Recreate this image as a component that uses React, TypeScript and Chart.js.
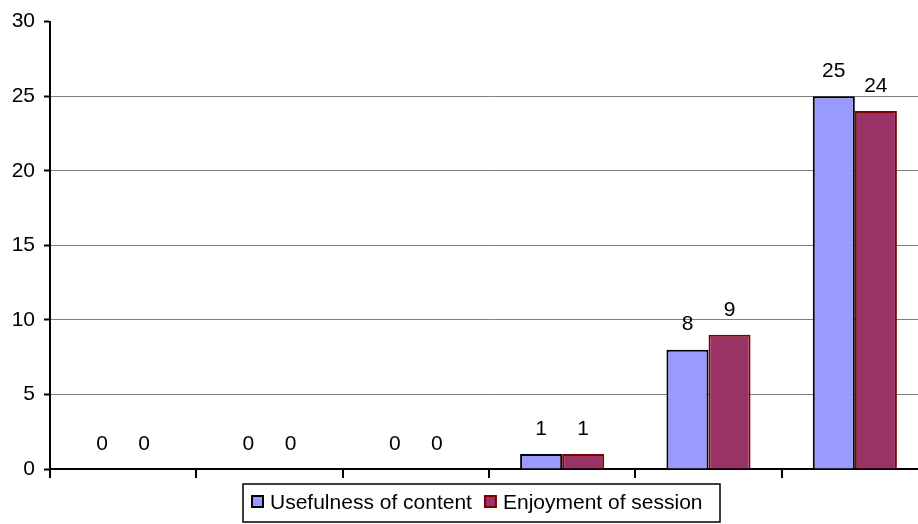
import React, { useEffect, useRef } from "react";
import { Chart, registerables } from "chart.js";

Chart.register(...registerables);

const categories = ["1", "2", "3", "4", "5", "6"];
const usefulness = [0, 0, 0, 1, 8, 25];
const enjoyment = [0, 0, 0, 1, 9, 24];
const seriesLabels = ["Usefulness of content", "Enjoyment of session"];
const yTicks = [0, 5, 10, 15, 20, 25, 30];

const FONT = "'Liberation Sans', Arial, sans-serif";
const FONT_SIZE = 21;

const valueLabels = {
  id: "valueLabels",
  afterDatasetsDraw(chart: any) {
    const ctx = chart.ctx;
    ctx.save();
    ctx.font = `${FONT_SIZE}px ${FONT}`;
    ctx.fillStyle = "#000";
    ctx.textAlign = "center";
    ctx.textBaseline = "middle";
    chart.data.datasets.forEach((ds: any, i: number) => {
      const meta = chart.getDatasetMeta(i);
      meta.data.forEach((bar: any, j: number) => {
        ctx.fillText(String(ds.data[j]), bar.x, bar.y - 25);
      });
    });
    ctx.restore();
  },
};

const boxLegend = {
  id: "boxLegend",
  afterDraw(chart: any) {
    const ctx = chart.ctx;
    const left = 243;
    const top = 484;
    const right = 720;
    const bottom = 522;
    ctx.save();
    ctx.fillStyle = "#fff";
    ctx.fillRect(left, top, right - left, bottom - top);
    ctx.lineWidth = 1.5;
    ctx.strokeStyle = "#000";
    ctx.strokeRect(left, top, right - left, bottom - top);
    ctx.font = `${FONT_SIZE}px ${FONT}`;
    ctx.textBaseline = "middle";
    ctx.textAlign = "left";
    const cy = 502;
    let x = 252;
    chart.data.datasets.forEach((ds: any) => {
      ctx.fillStyle = ds.backgroundColor;
      ctx.fillRect(x, cy - 6, 11, 11);
      ctx.lineWidth = 2;
      ctx.strokeStyle = ds.borderColor;
      ctx.strokeRect(x, cy - 6, 11, 11);
      ctx.fillStyle = "#000";
      ctx.fillText(ds.label, x + 18, cy + 1);
      x += 18 + ctx.measureText(ds.label).width + 13;
    });
    ctx.restore();
  },
};

export default function App() {
  const ref = useRef<HTMLCanvasElement>(null);
  useEffect(() => {
    if (!ref.current) return;
    const chart = new Chart(ref.current, {
      type: "bar",
      data: {
        labels: categories,
        datasets: [
          {
            label: seriesLabels[0],
            data: usefulness,
            backgroundColor: "#9999FF",
            borderColor: "#000000",
            borderWidth: 2,
          },
          {
            label: seriesLabels[1],
            data: enjoyment,
            backgroundColor: "#993366",
            borderColor: "#800000",
            borderWidth: 2,
          },
        ],
      },
      options: {
        animation: false,
        responsive: false,
        devicePixelRatio: 1,
        layout: { padding: { top: 19, right: 12, left: 0, bottom: 0 } },
        plugins: {
          legend: { display: false },
          tooltip: { enabled: false },
        },
        datasets: {
          bar: { categoryPercentage: 0.575, barPercentage: 1 },
        },
        scales: {
          x: {
            offset: true,
            grid: {
              offset: true,
              drawOnChartArea: false,
              drawTicks: true,
              tickLength: 9,
              color: "#000",
              lineWidth: 2,
            },
            border: { color: "#000", width: 2 },
            ticks: { display: false },
            afterFit(scale: any) {
              scale.height = 55;
            },
          },
          y: {
            min: 0,
            max: 30,
            afterBuildTicks(scale: any) {
              scale.ticks = yTicks.map((v) => ({ value: v }));
            },
            grid: {
              color: (c: any) =>
                c.tick && (c.tick.value === 30 || c.tick.value === 0)
                  ? "rgba(0,0,0,0)"
                  : "#808080",
              lineWidth: 1,
              tickColor: "#000",
              tickLength: 6,
              tickWidth: 2,
            },
            border: { color: "#000", width: 2 },
            ticks: {
              color: "#000",
              font: { family: FONT, size: FONT_SIZE },
              padding: 9,
            },
            afterFit(scale: any) {
              scale.width = 50;
            },
          },
        },
      },
      plugins: [valueLabels, boxLegend],
    });
    return () => chart.destroy();
  }, []);
  return (
    <div
      style={{
        position: "fixed",
        left: 0,
        top: 0,
        width: 918,
        height: 524,
        overflow: "hidden",
        background: "#fff",
      }}
    >
      <canvas
        ref={ref}
        width={940}
        height={524}
        style={{ width: 940, height: 524, display: "block" }}
      />
    </div>
  );
}
